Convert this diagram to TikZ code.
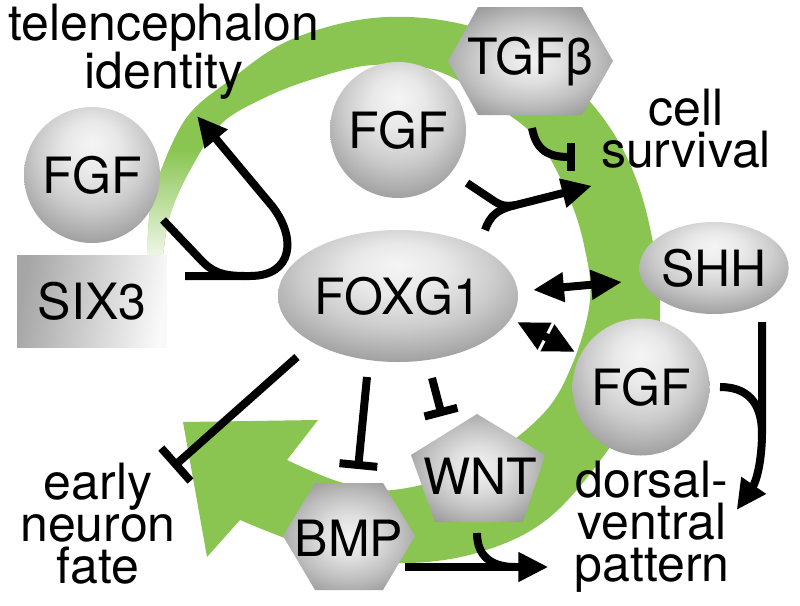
\documentclass[tikz,border=0pt]{standalone}
\usepackage{fontspec}
\setmainfont{TeX Gyre Heros}
\usetikzlibrary{arrows.meta,shapes.geometric,calc}
\definecolor{ringgreen}{RGB}{138,197,82}
\pgfdeclareradialshading{sphere}{\pgfpoint{0bp}{12bp}}{color(0bp)=(gray!8); color(10bp)=(gray!18); color(20bp)=(gray!40); color(28bp)=(gray!65); color(35bp)=(gray!88); color(42bp)=(black!58); color(60bp)=(black!66)}
\pgfdeclareradialshading{facet}{\pgfpoint{0bp}{0bp}}{color(0bp)=(gray!10); color(10bp)=(gray!25); color(20bp)=(gray!50); color(28bp)=(gray!75); color(35bp)=(gray!92); color(45bp)=(black!58); color(60bp)=(black!62)}

\begin{document}
\begin{tikzpicture}[x=1pt,y=-1pt,
  txt/.style={font=\fontsize{50}{42}\selectfont, align=center, inner sep=0pt},
  ball/.style={txt, shade, shading=sphere},
  act/.style={line width=8pt, -{Triangle[length=30pt,width=28pt]}},
  both/.style={line width=8pt, {Triangle[length=31pt,width=28pt]}-{Triangle[length=31pt,width=28pt]}},
  inh/.style={line width=8pt, -{Bar[width=#1]}}, inh/.default=36pt,
  link/.style={line width=8pt}]
\useasboundingbox (0,0) rectangle (800,605);

\fill[ringgreen, save path=\ringp] (147,256) -- plot[smooth,tension=.6] coordinates {(147,256) (150,210) (160,173) (187,117) (230,80) (290,40) (373,18) (457,23) (530,52) (597,110) (640,190) (660,300) (648,380) (613,443) (550,517) (480,552) (400,563) (320,550) (240,520)}
  -- (207,557) -- (183,422) -- (318,420) -- (287,460)
  -- plot[smooth,tension=.6] coordinates {(287,460) (340,482) (393,490) (470,468) (540,417) (572,365) (590,300) (584,245) (568,195) (540,143) (505,112) (440,72) (373,65) (310,80) (260,100) (220,125) (190,170) (170,215) (163,256)} -- cycle;
\begin{scope}
  \clip[use path=\ringp];
  \shade[top color=ringgreen, bottom color=ringgreen!12] (120,150) rectangle (240,258);
\end{scope}

\node[txt] (tel) at (164,52) {telencephalon\\identity};
\node[txt] (cell) at (686,129) {cell\\survival};
\node[txt] (early) at (98,524) {early\\neuron\\fate};
\node[txt] (dv) at (652,527) {dorsal-\\ventral\\pattern};

\shade[left color=gray!70, right color=gray!5, shading angle=80] (17,255) rectangle (167,347);
\node[txt, minimum width=150pt, minimum height=92pt] (six3) at (92,301) {SIX3};
\node[ball, circle, minimum size=136pt] (fgfL) at (92,175) {FGF};
\node[ball, circle, minimum size=136pt] (fgfT) at (398,130) {FGF};
\node[ball, circle, minimum size=137pt] (fgfR) at (641,387) {FGF};
\node[ball, ellipse, minimum width=240pt, minimum height=132pt] (foxg1) at (398,296) {FOXG1};
\node[ball, ellipse, minimum width=148pt, minimum height=92pt] (shh) at (714,268) {SHH};

\shade[shading=facet] (448,61) -- (478,7) -- (582,7) -- (613,61) -- (582,115) -- (478,115) -- cycle;
\node[txt] (tgfb) at (530,62) {TGFβ};
\shade[shading=facet] (283,536) -- (315,483) -- (383,483) -- (415,536) -- (383,590) -- (315,590) -- cycle;
\node[txt] (bmp) at (349,538) {BMP};
\shade[shading=facet] (477,414) -- (545,455) -- (523,522) -- (435,522) -- (411,455) -- cycle;
\node[txt] (wnt) at (480,476) {WNT};

\draw[act] ($(six3.east)+(18,-25)$) -- (250,276) .. controls (293,276) and (297,238) .. (272,206) -- ($(tel.south)+(33,16)$);
\draw[link] ($(fgfL)+(71,45)$) -- (200,259) .. controls (212,272) and (222,276) .. (245,276);
\draw[link] ($(fgfT)+(69,53)$) -- (494,201) .. controls (500,205) and (505,207) .. (516,205);
\draw[act] ($(foxg1)+(87,-66)$) .. controls (490,216) and (497,210) .. (512,206) -- ($(cell.south west)+(-9,17)$);
\draw[inh=28pt] ($(tgfb)+(2,66)$) .. controls (536,150) and (548,157) .. ($(cell.west)+(-26,28)$);
\draw[both] ($(foxg1)+(135,-6)$) -- ($(shh)+(-92,14)$);
\draw[both] ($(foxg1)+(119,26)$) -- ($(fgfR)+(-66,-35)$);
\draw[act] ($(shh)+(48,54)$) -- (762,432) .. controls (762,462) and (756,482) .. ($(dv.east)+(7,-17)$);
\draw[link] ($(fgfR)+(79,0)$) .. controls (745,387) and (762,400) .. (762,434);
\draw[inh=44pt] ($(foxg1)+(-101,61)$) -- ($(early.north east)+(-3,4)$);
\draw[inh=38pt] ($(foxg1)+(-31,81)$) -- ($(bmp)+(9,-69)$);
\draw[inh=34pt] ($(foxg1)+(34,82)$) -- ($(wnt)+(-38,-60)$);
\draw[act] ($(bmp)+(56,29)$) -- ($(dv.west)+(-26,40)$);
\draw[link] ($(wnt)+(-3,57)$) .. controls (477,555) and (490,567) .. (515,567);
\end{tikzpicture}
\end{document}
